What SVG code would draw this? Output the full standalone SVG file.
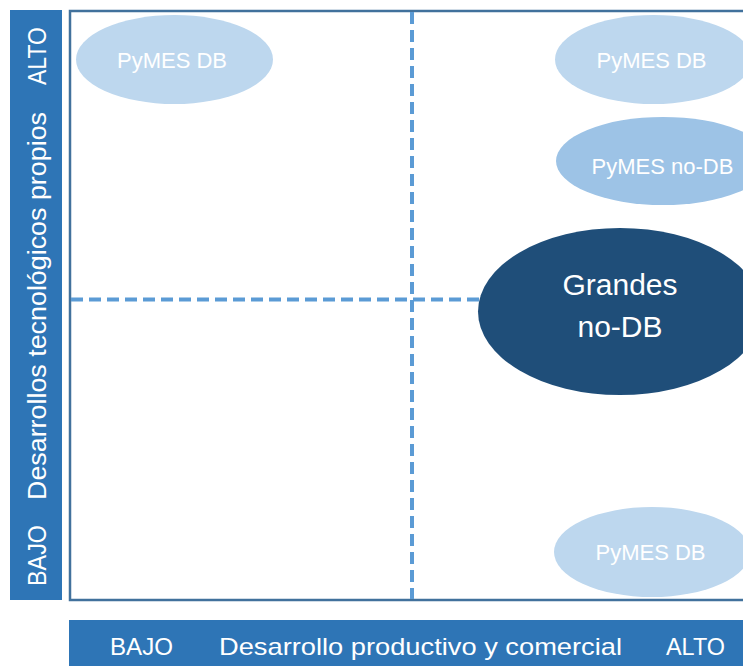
<svg xmlns="http://www.w3.org/2000/svg" width="743" height="666" viewBox="0 0 743 666">
<style>
.bar{fill:#2E75B6}
.axis{font-family:"Liberation Sans",Arial,sans-serif;font-size:24px;fill:#FFFFFF}
.vaxis{font-family:"Liberation Sans",Arial,sans-serif;font-size:25px;fill:#FFFFFF}
.lbl{font-family:"Liberation Sans",Arial,sans-serif;font-size:22px;fill:#FFFFFF;text-anchor:middle}
.big{font-family:"Liberation Sans",Arial,sans-serif;font-size:30px;fill:#FFFFFF;text-anchor:middle}
.dash{stroke:#5B9BD5;stroke-width:4;stroke-dasharray:12 6;fill:none}
.light{fill:#BDD7EE}
.mid{fill:#9DC3E6}
.dark{fill:#1F4E79}
</style>
<rect width="743" height="666" fill="#FFFFFF"/>
<g id="frame">
<rect x="70" y="11" width="700" height="589" fill="#FFFFFF" stroke="#41719C" stroke-width="2.5"/>
</g>
<g id="y-axis">
<rect class="bar" x="10" y="10" width="52" height="590"/>
<text class="vaxis" transform="translate(46,85) rotate(-90)" textLength="58" lengthAdjust="spacingAndGlyphs">ALTO</text>
<text class="vaxis" transform="translate(46,500) rotate(-90)" textLength="388" lengthAdjust="spacingAndGlyphs">Desarrollos tecnológicos propios</text>
<text class="vaxis" transform="translate(46,586) rotate(-90)" textLength="61" lengthAdjust="spacingAndGlyphs">BAJO</text>
</g>
<g id="x-axis">
<rect class="bar" x="69" y="620" width="700" height="60"/>
<text class="axis" x="110" y="655" textLength="63" lengthAdjust="spacingAndGlyphs">BAJO</text>
<text class="axis" x="219" y="655" textLength="403" lengthAdjust="spacingAndGlyphs">Desarrollo productivo y comercial</text>
<text class="axis" x="666" y="655" textLength="59" lengthAdjust="spacingAndGlyphs">ALTO</text>
</g>
<g id="connectors">
<line class="dash" x1="412" y1="12" x2="412" y2="599"/>
<line class="dash" x1="71" y1="299.5" x2="490" y2="299.5"/>
</g>
<g id="pymes-db-tl">
<ellipse class="light" cx="174.5" cy="59.5" rx="98.5" ry="44.5"/>
<text class="lbl" x="172" y="68">PyMES DB</text>
</g>
<g id="pymes-db-tr">
<ellipse class="light" cx="653.5" cy="59.5" rx="98.5" ry="44.5"/>
<text class="lbl" x="651.5" y="68">PyMES DB</text>
</g>
<g id="pymes-nodb">
<ellipse class="mid" cx="663" cy="161" rx="107" ry="44"/>
<text class="lbl" x="662.5" y="182" dy="-8">PyMES no-DB</text>
</g>
<g id="grandes-nodb">
<ellipse class="dark" cx="620" cy="311.5" rx="142" ry="83.5"/>
<text class="big" x="620" y="295">Grandes</text>
<text class="big" x="620" y="337">no-DB</text>
</g>
<g id="pymes-db-br">
<ellipse class="light" cx="652" cy="552" rx="98" ry="45"/>
<text class="lbl" x="650.5" y="560">PyMES DB</text>
</g>
</svg>
